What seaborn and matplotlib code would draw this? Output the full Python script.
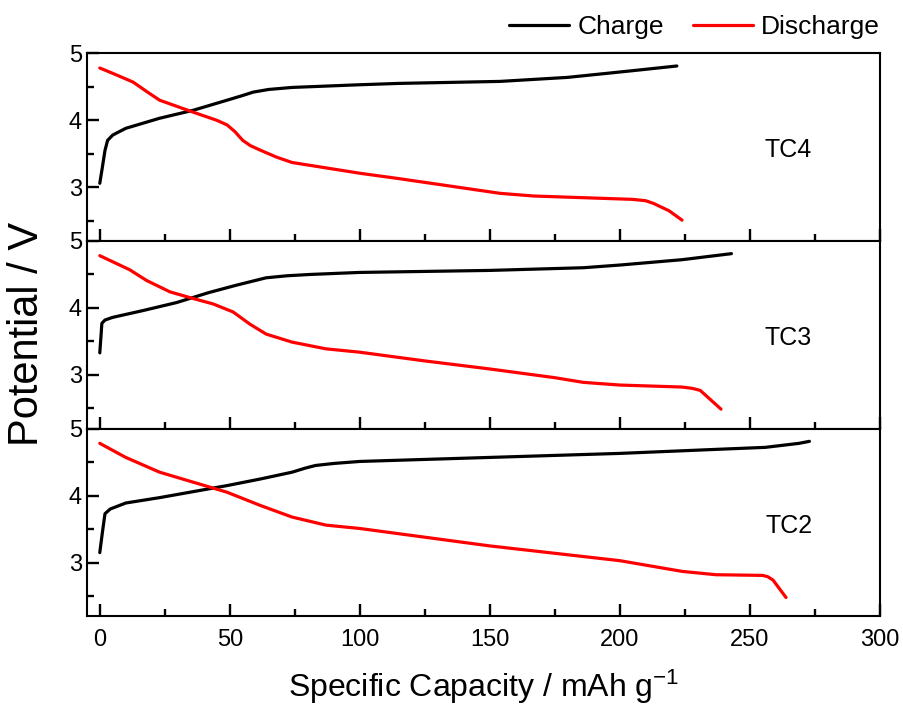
import matplotlib
matplotlib.use('Agg')
import matplotlib.pyplot as plt
import seaborn as sns
from matplotlib.ticker import MultipleLocator
from matplotlib.lines import Line2D

# data (capacity in mAh/g, potential in V)
tc4_charge_cap = [0, 1, 2, 3, 5, 10, 23, 36, 49, 55, 59, 65, 74, 100, 115, 154, 180, 205, 222]
tc4_charge_v = [3.06, 3.3, 3.55, 3.70, 3.78, 3.88, 4.03, 4.15, 4.30, 4.37, 4.42, 4.46, 4.49, 4.53, 4.55, 4.58, 4.64, 4.74, 4.81]
tc4_dis_cap = [0, 5, 12.8, 18, 23, 36, 45, 49, 52, 55, 58, 62, 68, 74, 100, 115, 154, 167, 205, 210, 213, 219, 224]
tc4_dis_v = [4.78, 4.70, 4.57, 4.43, 4.30, 4.12, 4.00, 3.93, 3.83, 3.70, 3.62, 3.55, 3.45, 3.37, 3.21, 3.13, 2.91, 2.87, 2.82, 2.80, 2.76, 2.65, 2.51]

tc3_charge_cap = [0, 0.5, 0.8, 2, 5, 16.5, 29.5, 42, 52.6, 64, 72, 81, 100, 150, 186, 200, 224, 243]
tc3_charge_v = [3.33, 3.6, 3.77, 3.82, 3.86, 3.96, 4.08, 4.23, 4.34, 4.45, 4.48, 4.50, 4.53, 4.56, 4.60, 4.64, 4.72, 4.81]
tc3_dis_cap = [0, 11.5, 18, 27, 36, 43.6, 51.3, 54.5, 57.7, 64, 74, 87, 100, 125, 150, 175, 186, 200, 224, 228, 231, 239]
tc3_dis_v = [4.78, 4.57, 4.41, 4.24, 4.14, 4.06, 3.94, 3.85, 3.76, 3.61, 3.49, 3.39, 3.34, 3.21, 3.09, 2.96, 2.89, 2.85, 2.82, 2.80, 2.77, 2.49]

tc2_charge_cap = [0, 1, 2, 4, 10, 23, 36, 49, 62, 74, 79, 83, 90, 100, 150, 200, 237, 256, 269, 273]
tc2_charge_v = [3.15, 3.45, 3.73, 3.80, 3.89, 3.97, 4.06, 4.15, 4.25, 4.35, 4.41, 4.45, 4.48, 4.51, 4.57, 4.63, 4.69, 4.72, 4.78, 4.81]
tc2_dis_cap = [0, 10, 23, 36, 49, 62, 74, 87, 100, 125, 150, 175, 200, 224, 237, 255, 257, 259, 264]
tc2_dis_v = [4.78, 4.57, 4.35, 4.20, 4.05, 3.85, 3.68, 3.56, 3.51, 3.38, 3.25, 3.14, 3.03, 2.87, 2.82, 2.81, 2.79, 2.74, 2.48]

panels = [
    ('TC4', tc4_charge_cap, tc4_charge_v, tc4_dis_cap, tc4_dis_v),
    ('TC3', tc3_charge_cap, tc3_charge_v, tc3_dis_cap, tc3_dis_v),
    ('TC2', tc2_charge_cap, tc2_charge_v, tc2_dis_cap, tc2_dis_v),
]

sns.set_style('ticks')
plt.rcParams['font.family'] = ['Liberation Sans', 'DejaVu Sans']
plt.rcParams['mathtext.fontset'] = 'custom'
plt.rcParams['mathtext.rm'] = 'Liberation Sans'
for key in ['text.color', 'axes.labelcolor', 'xtick.color', 'ytick.color', 'axes.edgecolor']:
    plt.rcParams[key] = 'black'

fig, axes = plt.subplots(3, 1, figsize=(9.04, 7.10), dpi=100)
fig.subplots_adjust(left=0.096, right=0.973, top=0.925, bottom=0.132, hspace=0)

for i, (ax, (name, cc, cv, dc, dv)) in enumerate(zip(axes, panels)):
    sns.lineplot(x=cc, y=cv, ax=ax, color='black', lw=2.3, sort=False, estimator=None)
    sns.lineplot(x=dc, y=dv, ax=ax, color='red', lw=2.3, sort=False, estimator=None)
    ax.set_xlim(-5, 300)
    ax.set_ylim(2.2, 5.0)
    ax.xaxis.set_major_locator(MultipleLocator(50))
    ax.xaxis.set_minor_locator(MultipleLocator(25))
    ax.yaxis.set_major_locator(MultipleLocator(1))
    ax.yaxis.set_minor_locator(MultipleLocator(0.5))
    ax.tick_params(which='major', direction='in', length=8.5, width=1.7, labelsize=17)
    ax.tick_params(which='minor', direction='in', length=4.8, width=1.7)
    ax.tick_params(axis='both', which='both', top=False, right=False, bottom=True, left=True)
    ax.tick_params(axis='x', which='major', pad=9, labelbottom=(i == 2))
    for sp in ax.spines.values():
        sp.set_linewidth(1.5)
    ax.text(265, 3.55, name, fontsize=18, ha='center', va='center')
    ax.set_ylabel('')
    ax.set_xlabel('')

axes[-1].set_xlabel('Specific Capacity / mAh g$\\mathregular{^{-1}}$', fontsize=23, labelpad=12)
fig.text(0.03, 0.53, 'Potential / V', rotation=90, fontsize=30, ha='center', va='center')

handles = [Line2D([], [], color='black', lw=2.3), Line2D([], [], color='red', lw=2.3)]
fig.legend(handles, ['Charge', 'Discharge'], loc='upper right', bbox_to_anchor=(1.0, 1.012),
           ncol=2, frameon=False, fontsize=19, handlelength=2.3, columnspacing=1.1, handletextpad=0.3)

fig.savefig('out.png', dpi=100)
